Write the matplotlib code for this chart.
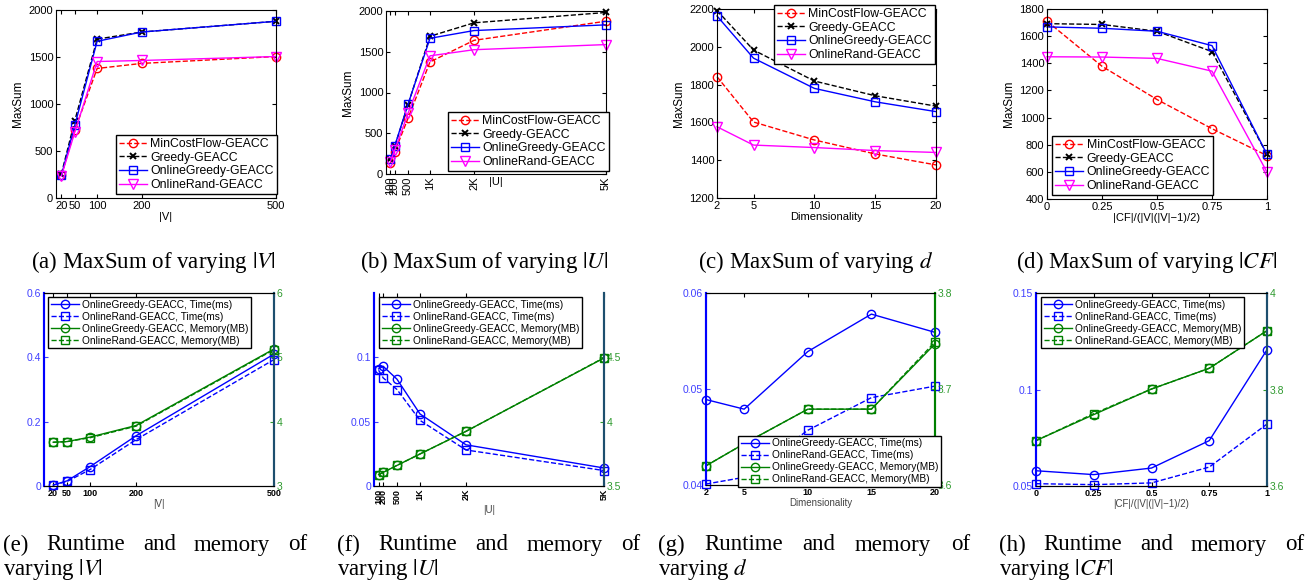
import matplotlib
matplotlib.use('Agg')
import matplotlib.pyplot as plt
from matplotlib.ticker import FormatStrFormatter

plt.rcParams['font.family'] = ['Liberation Sans', 'DejaVu Sans']
plt.rcParams['mathtext.fontset'] = 'stix'

# x values of the four experiments
v_sizes = [20, 50, 100, 200, 500]
u_sizes = [100, 200, 500, 1000, 2000, 5000]
u_labels = ['100', '200', '500', '1K', '2K', '5K']
dims = [2, 5, 10, 15, 20]
cf_ratio = [0, 0.25, 0.5, 0.75, 1]
cf_labels = ['0', '0.25', '0.5', '0.75', '1']

# MaxSum (top row)
mcf_v = [240, 720, 1378, 1432, 1505]
greedy_v = [255, 822, 1690, 1766, 1880]
og_v = [240, 773, 1667, 1766, 1880]
or_v = [232, 700, 1452, 1463, 1505]

mcf_u = [135, 275, 683, 1375, 1640, 1875]
greedy_u = [180, 340, 850, 1690, 1855, 1982]
og_u = [182, 348, 855, 1665, 1760, 1830]
or_u = [152, 295, 744, 1450, 1525, 1588]

mcf_d = [1842, 1602, 1507, 1433, 1375]
greedy_d = [2192, 1983, 1819, 1741, 1686]
og_d = [2163, 1940, 1780, 1709, 1657]
or_d = [1577, 1480, 1467, 1451, 1441]

mcf_cf = [1710, 1378, 1133, 918, 720]
greedy_cf = [1692, 1686, 1636, 1486, 728]
og_cf = [1668, 1658, 1636, 1530, 728]
or_cf = [1448, 1446, 1436, 1342, 598]

# runtime (ms) and memory (MB), bottom row
og_time_v = [0.003, 0.016, 0.060, 0.156, 0.410]
or_time_v = [0.003, 0.014, 0.051, 0.144, 0.393]
og_mem_v = [3.68, 3.69, 3.76, 3.94, 5.13]
or_mem_v = [3.68, 3.69, 3.75, 3.93, 5.12]

og_time_u = [0.091, 0.093, 0.083, 0.056, 0.032, 0.014]
or_time_u = [0.090, 0.084, 0.075, 0.051, 0.028, 0.012]
og_mem_u = [3.588, 3.606, 3.660, 3.749, 3.925, 4.495]
or_mem_u = [3.588, 3.606, 3.660, 3.749, 3.925, 4.497]

og_time_d = [0.0489, 0.0479, 0.0539, 0.0578, 0.0559]
or_time_d = [0.0401, 0.0408, 0.0457, 0.0491, 0.0503]
og_mem_d = [3.620, 3.643, 3.679, 3.679, 3.747]
or_mem_d = [3.620, 3.643, 3.679, 3.679, 3.749]

og_time_cf = [0.0579, 0.0559, 0.0593, 0.0735, 0.1206]
or_time_cf = [0.0512, 0.0507, 0.0516, 0.0598, 0.0821]
og_mem_cf = [3.694, 3.748, 3.801, 3.844, 3.922]
or_mem_cf = [3.694, 3.750, 3.801, 3.844, 3.922]

algo_names = ['MinCostFlow-GEACC', 'Greedy-GEACC', 'OnlineGreedy-GEACC', 'OnlineRand-GEACC']
algo_styles = [
    dict(color='red', ls='--', marker='o', ms=6),
    dict(color='black', ls='--', marker='x', ms=4, mew=1.4),
    dict(color='blue', ls='-', marker='s', ms=6),
    dict(color='magenta', ls='-', marker='v', ms=6.5),
]

cost_names = ['OnlineGreedy-GEACC, Time(ms)', 'OnlineRand-GEACC, Time(ms)',
              'OnlineGreedy-GEACC, Memory(MB)', 'OnlineRand-GEACC, Memory(MB)']

W, H = 1314, 586
fig = plt.figure(figsize=(W / 100, H / 100), dpi=100)


def box(x0, y0, x1, y1):
    return [x0 / W, 1 - y1 / H, (x1 - x0) / W, (y1 - y0) / H]


def fpos(x, y):
    return (x / W, 1 - y / H)


def maxsum_panel(rect, xs, series, xlim, ylim, yticks, xlabel, loc, leg_xy,
                 xticklabels=None, rot=0):
    ax = fig.add_axes(box(*rect))
    for ys, name, st in zip(series, algo_names, algo_styles):
        ax.plot(xs, ys, lw=1, mfc='none', label=name, clip_on=False, **st)
    ax.set_xlim(xlim)
    ax.set_ylim(ylim)
    ax.set_yticks(yticks)
    ax.set_xticks(xs)
    ax.set_xticklabels(xticklabels or [str(v) for v in xs], rotation=rot)
    ax.tick_params(direction='in', top=True, right=True, labelsize=8, length=3, pad=2)
    ax.set_ylabel('MaxSum', fontsize=8.5, labelpad=3)
    ax.set_xlabel(xlabel, fontsize=8, labelpad=1)
    leg = ax.legend(loc=loc, bbox_to_anchor=fpos(*leg_xy), bbox_transform=fig.transFigure,
                    borderaxespad=0, fontsize=8.8, fancybox=False, edgecolor='black',
                    framealpha=1, labelspacing=0.14, handlelength=2.3,
                    handletextpad=0.3, borderpad=0.25)
    leg.get_frame().set_linewidth(1.0)
    return ax


def cost_panel(rect, xs, times, mems, xlim, tlim, tticks, mlim, mticks, xlabel,
               loc, leg_xy, xticklabels=None, rot=0, right_color='#1d4f6e', top=True):
    ax = fig.add_axes(box(*rect))
    ax2 = ax.twinx()
    ax.plot(xs, times[0], color='blue', ls='-', marker='o', ms=6, mfc='none', lw=1, clip_on=False)
    ax.plot(xs, times[1], color='blue', ls='--', marker='s', ms=6, mfc='none', lw=1, clip_on=False)
    ax2.plot(xs, mems[0], color='green', ls='-', marker='o', ms=6, mfc='none', lw=1, clip_on=False)
    ax2.plot(xs, mems[1], color='green', ls='--', marker='s', ms=6, mfc='none', lw=1, clip_on=False)
    ax.set_xlim(xlim)
    ax.set_ylim(tlim)
    ax.set_yticks(tticks)
    ax2.set_ylim(mlim)
    ax2.set_yticks(mticks)
    ax.yaxis.set_major_formatter(FormatStrFormatter('%g'))
    ax2.yaxis.set_major_formatter(FormatStrFormatter('%g'))
    ax.set_xticks(xs)
    ax.set_xticklabels(xticklabels or [str(v) for v in xs], rotation=rot,
                       fontweight='bold', fontsize=6.5)
    ax.tick_params(axis='x', direction='in', top=True, length=3, pad=2)
    ax.tick_params(axis='y', direction='in', colors='#4040ff', labelsize=7.5, length=3, pad=2)
    ax2.tick_params(axis='y', direction='in', colors='#2e9a2e', labelsize=7.5, length=3, pad=2)
    for a in (ax, ax2):
        a.spines['left'].set_color('blue')
        a.spines['left'].set_linewidth(1.5)
        a.spines['right'].set_color(right_color)
        a.spines['right'].set_linewidth(1.5)
        a.spines['top'].set_visible(top)
    ax.set_xlabel(xlabel, fontsize=7, color='#444444', labelpad=1)
    leg = ax2.legend(ax.get_lines() + ax2.get_lines(), cost_names, loc=loc,
                     bbox_to_anchor=fpos(*leg_xy), bbox_transform=fig.transFigure,
                     borderaxespad=0, fontsize=7.3, fancybox=False, edgecolor='black',
                     framealpha=1, labelspacing=0.2, handlelength=2.8,
                     handletextpad=0.3, borderpad=0.25)
    leg.get_frame().set_linewidth(1.0)
    return ax, ax2


maxsum_panel((56, 10, 276, 198), v_sizes, [mcf_v, greedy_v, og_v, or_v], (8, 500),
             (0, 2000), [0, 500, 1000, 1500, 2000], '|V|', 'lower right', (277, 194))
ax_b = maxsum_panel((386, 11, 606, 174), u_sizes, [mcf_u, greedy_u, og_u, or_u], (0, 5000),
                    (0, 2000), [0, 500, 1000, 1500, 2000], '|U|', 'lower right', (609, 171),
                    xticklabels=u_labels, rot=90)
ax_b.xaxis.set_label_coords(0.5, -0.02)
maxsum_panel((717, 9, 936, 198), dims, [mcf_d, greedy_d, og_d, or_d], (2, 20),
             (1200, 2200), [1200, 1400, 1600, 1800, 2000, 2200], 'Dimensionality',
             'upper right', (935, 5))
maxsum_panel((1047, 9, 1267, 199), cf_ratio, [mcf_cf, greedy_cf, og_cf, or_cf], (0, 1),
             (400, 1800), [400, 600, 800, 1000, 1200, 1400, 1600, 1800],
             '|CF|/(|V|(|V|\u22121)/2)', 'lower left', (1052, 195), xticklabels=cf_labels)

cost_panel((44, 293, 274, 486), v_sizes, [og_time_v, or_time_v], [og_mem_v, or_mem_v],
           (0, 500), (0, 0.6), [0, 0.2, 0.4, 0.6], (3, 6), [3, 4, 5, 6], '|V|',
           'upper left', (48, 297))
cost_panel((374, 293, 604, 486), u_sizes, [og_time_u, or_time_u], [og_mem_u, or_mem_u],
           (0, 5000), (0, 0.15), [0, 0.05, 0.1], (3.5, 5), [3.5, 4, 4.5], '|U|',
           'upper left', (379, 297), xticklabels=u_labels, rot=90, top=False)
cost_panel((706, 293, 935, 485), dims, [og_time_d, or_time_d], [og_mem_d, or_mem_d],
           (2, 20), (0.04, 0.06), [0.04, 0.05, 0.06], (3.6, 3.8), [3.6, 3.7, 3.8],
           'Dimensionality', 'lower right', (941, 487), right_color='green')
cost_panel((1036, 293, 1267, 486), cf_ratio, [og_time_cf, or_time_cf], [og_mem_cf, or_mem_cf],
           (0, 1), (0.05, 0.15), [0.05, 0.1, 0.15], (3.6, 4.0), [3.6, 3.8, 4],
           '|CF|/(|V|(|V|\u22121)/2)', 'upper left', (1041, 297), xticklabels=cf_labels)

# captions
cap_font = dict(family='Liberation Serif', fontsize=16.5)
top_caps = ['(a) MaxSum of varying $|V|$', '(b) MaxSum of varying $|U|$',
            '(c) MaxSum of varying $d$', '(d) MaxSum of varying $|CF|$']
for cx, cap in zip([153, 484, 816, 1147], top_caps):
    fig.text(*fpos(cx, 262), cap, ha='center', va='center', **cap_font)

renderer = fig.canvas.get_renderer()


def justified(words, x0, x1, y):
    texts = [fig.text(0, 0, w, va='center', **cap_font) for w in words]
    widths = [t.get_window_extent(renderer).width for t in texts]
    gap = (x1 - x0 - sum(widths)) / (len(words) - 1)
    x = x0
    for t, w in zip(texts, widths):
        t.set_position(fpos(x, y))
        x += w + gap


bottom_caps = [(3, 307, '$|V|$'), (337, 640, '$|U|$'), (658, 970, '$d$'), (999, 1304, '$|CF|$')]
for (x0, x1, sym), tag in zip(bottom_caps, ['(e)', '(f)', '(g)', '(h)']):
    justified([tag, 'Runtime', 'and', 'memory', 'of'], x0, x1, 545)
    fig.text(*fpos(x0, 570), 'varying ' + sym, ha='left', va='center', **cap_font)

fig.savefig('out.png', dpi=100)
